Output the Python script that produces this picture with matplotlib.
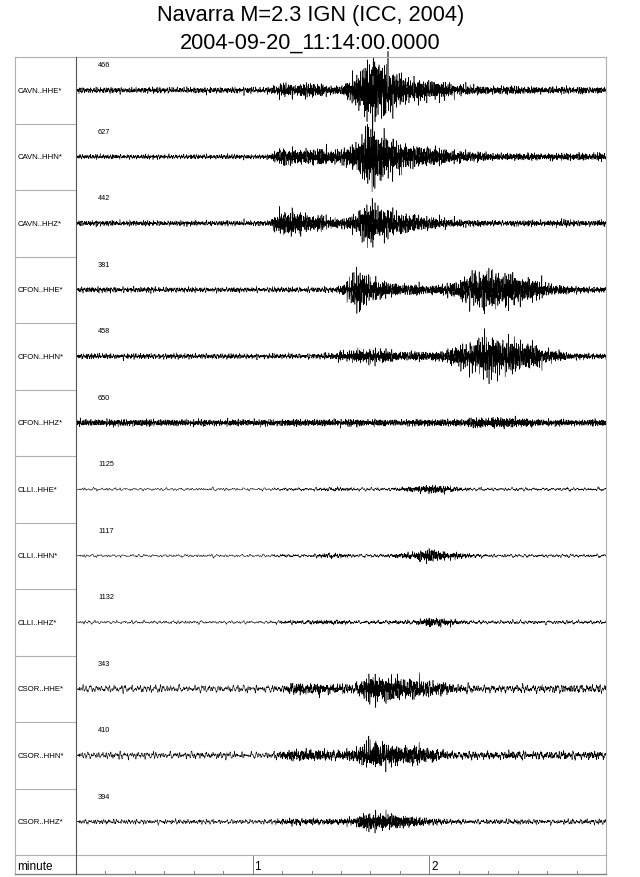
import numpy as np
import matplotlib
matplotlib.use("Agg")
import matplotlib.pyplot as plt
from matplotlib.lines import Line2D

plt.rcParams['font.family'] = ['Liberation Sans', 'DejaVu Sans']

# ---------------- data ----------------
title1 = "Navarra M=2.3 IGN (ICC, 2004)"
title2 = "2004-09-20_11:14:00.0000"

stations = ["CAVN..HHE*", "CAVN..HHN*", "CAVN..HHZ*",
            "CFON..HHE*", "CFON..HHN*", "CFON..HHZ*",
            "CLLI..HHE*", "CLLI..HHN*", "CLLI..HHZ*",
            "CSOR..HHE*", "CSOR..HHN*", "CSOR..HHZ*"]
max_counts = [466, 627, 442, 381, 458, 650, 1125, 1117, 1132, 343, 410, 394]

# envelope times (seconds after 11:14:00), every 5 s
env_t = list(range(0, 181, 5))
# half peak-to-peak amplitude as a fraction of the half row height
env_cavn_hhe = [0.09]*14 + [0.25, 0.25, 0.30, 0.22, 0.22, 0.60, 1.20, 1.00, 0.55, 0.40, 0.35, 0.30,
                            0.22, 0.20, 0.18, 0.18, 0.16, 0.16, 0.16, 0.16, 0.16, 0.15, 0.12]
env_cavn_hhn = [0.07]*14 + [0.30, 0.30, 0.30, 0.30, 0.30, 0.50, 1.20, 0.80, 0.50, 0.40, 0.35, 0.28,
                            0.22, 0.20, 0.18, 0.15, 0.15, 0.15, 0.15, 0.15, 0.15, 0.15, 0.15]
env_cavn_hhz = [0.08]*14 + [0.45, 0.45, 0.30, 0.25, 0.22, 0.35, 0.80, 0.55, 0.40, 0.32, 0.25, 0.20,
                            0.15, 0.14, 0.12, 0.12, 0.12, 0.12, 0.12, 0.15, 0.12, 0.12, 0.12]
env_cfon_hhe = [0.08]*17 + [0.10, 0.15, 0.70, 0.45, 0.30, 0.25, 0.22, 0.20, 0.25, 0.35, 0.65,
                            0.70, 0.60, 0.55, 0.40, 0.30, 0.20, 0.15, 0.12, 0.10]
env_cfon_hhn = [0.08]*17 + [0.12, 0.20, 0.25, 0.28, 0.25, 0.20, 0.18, 0.20, 0.25, 0.40, 0.60,
                            0.75, 0.60, 0.55, 0.45, 0.30, 0.20, 0.15, 0.12, 0.12]
env_cfon_hhz = [0.10]*18 + [0.12, 0.16, 0.14, 0.12, 0.12, 0.12, 0.12, 0.12, 0.15, 0.20, 0.22,
                            0.22, 0.20, 0.15, 0.12, 0.10, 0.10, 0.10, 0.10]
env_clli_hhe = [0.045]*14 + [0.06, 0.06, 0.06, 0.07, 0.08, 0.06, 0.06, 0.06, 0.08, 0.12, 0.16, 0.14,
                             0.08, 0.06, 0.06, 0.06, 0.06, 0.06, 0.06, 0.06, 0.06, 0.06, 0.06]
env_clli_hhn = [0.045]*14 + [0.07, 0.06, 0.06, 0.09, 0.09, 0.06, 0.06, 0.07, 0.10, 0.15, 0.25, 0.15,
                             0.12, 0.08, 0.06, 0.06, 0.06, 0.06, 0.06, 0.06, 0.06, 0.06, 0.06]
env_clli_hhz = [0.05]*14 + [0.07, 0.08, 0.08, 0.10, 0.09, 0.07, 0.08, 0.08, 0.08, 0.09, 0.18, 0.15,
                            0.09, 0.07, 0.07, 0.07, 0.07, 0.07, 0.07, 0.07, 0.07, 0.07, 0.07]
env_csor_hhe = [0.11]*14 + [0.15, 0.25, 0.25, 0.22, 0.20, 0.20, 0.55, 0.50, 0.45, 0.40, 0.30, 0.25,
                            0.18, 0.15, 0.15, 0.15, 0.15, 0.15, 0.15, 0.15, 0.15, 0.15, 0.15]
env_csor_hhn = [0.10]*7 + [0.12, 0.12, 0.12, 0.11, 0.10, 0.10, 0.10, 0.20, 0.25, 0.25, 0.22, 0.20,
                           0.30, 0.50, 0.45, 0.40, 0.40, 0.30, 0.20, 0.16, 0.16, 0.16, 0.16, 0.16,
                           0.16, 0.16, 0.16, 0.16, 0.16, 0.16]
env_csor_hhz = [0.07]*14 + [0.12, 0.15, 0.14, 0.13, 0.13, 0.18, 0.35, 0.30, 0.28, 0.20, 0.15, 0.12,
                            0.10, 0.09, 0.09, 0.09, 0.09, 0.09, 0.09, 0.09, 0.09, 0.09, 0.09]
envelopes = [env_cavn_hhe, env_cavn_hhn, env_cavn_hhz,
             env_cfon_hhe, env_cfon_hhn, env_cfon_hhz,
             env_clli_hhe, env_clli_hhn, env_clli_hhz,
             env_csor_hhe, env_csor_hhn, env_csor_hhz]
# wiggle frequency of background noise and of the event signal (Hz), judged from the picture
noise_hz = [1.4, 1.4, 1.4, 1.3, 1.3, 2.0, 0.45, 0.45, 0.5, 0.6, 0.65, 0.75]
event_hz = [2.6, 2.6, 2.6, 2.4, 2.4, 2.6, 2.2, 2.2, 2.2, 2.4, 2.4, 2.4]

minute_ticks = [60, 120]
minute_labels = ["1", "2"]
duration = 180

# ---------------- figure ----------------
W, H = 640, 878
fig = plt.figure(figsize=(W/100, H/100), dpi=100)

def fx(px):
    return px / W

def fy(py):
    return 1 - py / H

x_frame, x_div, x_right = 15, 76, 606
y_top, y_rows_bot, y_bot = 58, 856, 875
n = len(stations)

light = '#b0b0b0'
dark = '#555555'

# trace axes
ax = fig.add_axes([fx(x_div), fy(y_rows_bot), fx(x_right - x_div), (y_rows_bot - y_top)/H])
ax.set_xlim(0, duration)
ax.set_ylim(n, 0)
ax.axis('off')

t = np.arange(0, duration + 0.001, 0.04)
ratios = [0.61, 0.83, 1.0, 1.27, 1.53, 1.9, 2.41, 2.97]


def carrier(f0, i, shift):
    c = np.zeros_like(t)
    for k, r in enumerate(ratios):
        c += np.sin(2*np.pi*f0*r*t + k*2.39996 + i*1.7 + shift)
        c += 0.45*np.sin(2*np.pi*2.3*f0*r*t + k*1.1 + i*0.9 + shift)
    return c / (2.2*np.std(c))


for i in range(n):
    c_noise = carrier(noise_hz[i], i, 0.0)
    c_event = carrier(event_hz[i], i, 0.7)
    env = np.interp(t, env_t, envelopes[i])
    base = envelopes[i][0]
    excess = np.clip(env - base, 0, None)
    y = i + 0.5 - 0.5*(base*c_noise + excess*c_event)
    ax.plot(t, y, color='black', lw=0.4, clip_on=False)
    ax.text(7.5, i + 0.12, str(max_counts[i]), fontsize=5.3, ha='left', va='center')

# left label panel
axl = fig.add_axes([fx(x_frame), fy(y_rows_bot), fx(x_div - x_frame), (y_rows_bot - y_top)/H])
axl.set_xlim(0, 1)
axl.set_ylim(n, 0)
axl.set_xticks([]); axl.set_yticks([])
for s in axl.spines.values():
    s.set_visible(False)
for i in range(n):
    axl.text(0.04, i + 0.5, stations[i], fontsize=5.6, ha='left', va='center')
    if i > 0:
        axl.axhline(i, color=light, lw=0.8)

# frame lines (figure level)
def fline(x0, y0, x1, y1, color, lw=0.8):
    fig.add_artist(Line2D([fx(x0), fx(x1)], [fy(y0), fy(y1)], color=color, lw=lw,
                          transform=fig.transFigure))

fline(x_frame, y_top, x_right, y_top, light)
fline(x_right, y_top, x_right, y_bot, light)
fline(x_frame, y_top, x_frame, y_bot, light)
fline(x_frame, y_rows_bot, x_right, y_rows_bot, light)
fline(x_frame, y_bot, x_right, y_bot, '#808080', 1.0)
fline(x_div, y_top, x_div, y_bot, dark, 0.8)

# bottom time axis strip
axb = fig.add_axes([fx(x_div), fy(y_bot), fx(x_right - x_div), (y_bot - y_rows_bot)/H])
axb.set_xlim(0, duration)
axb.set_ylim(0, 1)
axb.axis('off')
for tk in range(10, duration, 10):
    if tk in minute_ticks:
        axb.plot([tk, tk], [0, 1], color='#808080', lw=0.7)
    else:
        axb.plot([tk, tk], [0, 0.18], color='#808080', lw=0.7)
for tk, lab in zip(minute_ticks, minute_labels):
    axb.text(tk + 0.6, 0.4, lab, fontsize=8.5, ha='left', va='center')
fig.text(fx(17), fy(867), "minute", fontsize=8.5, ha='left', va='center')

# titles
xc = fx((x_frame + x_right) / 2)
fig.text(xc, fy(15), title1, fontsize=15.7, ha='center', va='center')
fig.text(xc, fy(43), title2, fontsize=15.7, ha='center', va='center')

fig.savefig("out.png", dpi=100)
